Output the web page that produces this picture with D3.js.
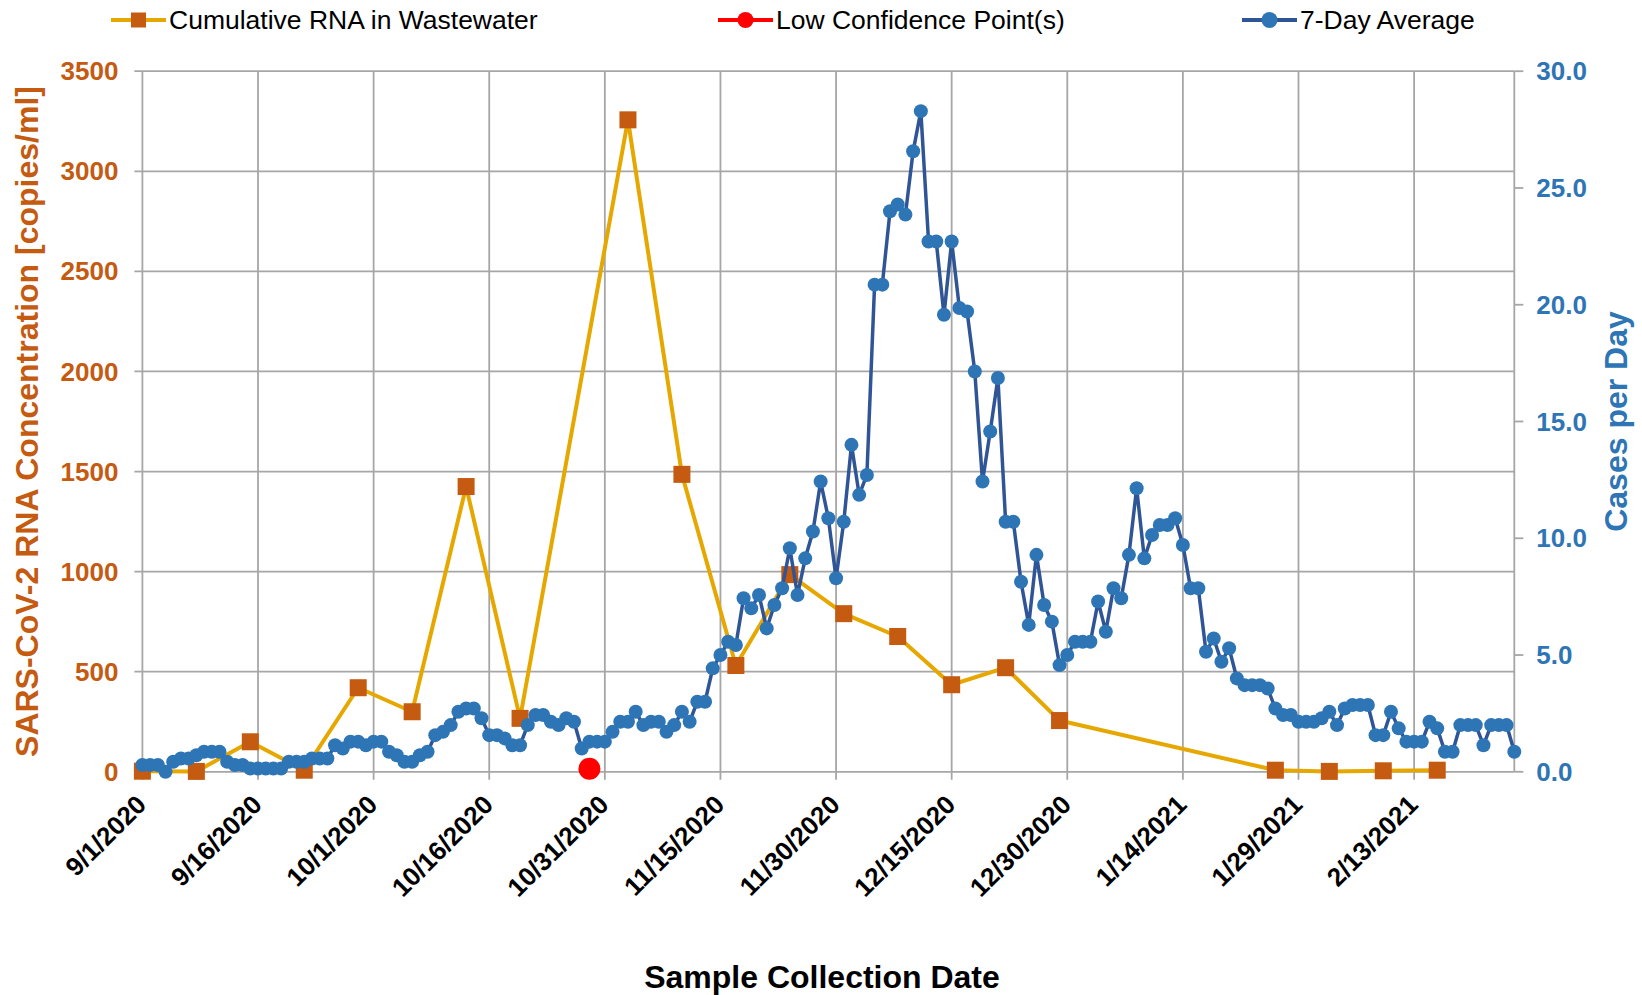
<!DOCTYPE html>
<html>
<head>
<meta charset="utf-8">
<script src="https://cdn.jsdelivr.net/npm/d3@7"></script>
<style>
  body { margin: 0; background: #fff; }
  svg { display: block; font-family: "Liberation Sans", Arial, sans-serif; }
</style>
</head>
<body>
<div id="chartDiv"></div>
<script>
// wastewater samples (copies/ml)
var rnaDates = ["9/1/2020", "9/8/2020", "9/15/2020", "9/22/2020", "9/29/2020", "10/6/2020", "10/13/2020",
  "10/20/2020", "11/3/2020", "11/10/2020", "11/17/2020", "11/24/2020", "12/1/2020", "12/8/2020",
  "12/15/2020", "12/22/2020", "12/29/2020", "1/26/2021", "2/2/2021", "2/9/2021", "2/16/2021"];
var rnaValues = [3, 2, 150, 8, 420, 300, 1425, 267, 3257, 1486, 531, 985, 790, 676, 435, 520, 256, 8, 2, 5, 8];

var lowConfDates = ["10/29/2020"];
var lowConfValues = [15];

// 7-day average cases, one value per day starting 9/1/2020
var caseStart = "9/1/2020";
var caseValues = [
  0.29, 0.29, 0.29, 0.0, 0.43, 0.57, 0.57, 0.71, 0.86, 0.86, 0.86, 0.43, 0.29, 0.29, 0.14, 0.14,
  0.14, 0.14, 0.14, 0.43, 0.43, 0.43, 0.57, 0.57, 0.57, 1.14, 1.0, 1.29, 1.29, 1.14, 1.29, 1.29,
  0.86, 0.71, 0.43, 0.43, 0.71, 0.86, 1.57, 1.71, 2.0, 2.57, 2.71, 2.71, 2.29, 1.57, 1.57, 1.43,
  1.14, 1.14, 2.0, 2.43, 2.43, 2.14, 2.0, 2.29, 2.14, 1.0, 1.29, 1.29, 1.29, 1.71, 2.14, 2.14,
  2.57, 2.0, 2.14, 2.14, 1.71, 2.0, 2.57, 2.14, 3.0, 3.0, 4.43, 5.0, 5.57, 5.43, 7.43, 7.0,
  7.57, 6.14, 7.14, 7.86, 9.57, 7.57, 9.14, 10.29, 12.43, 10.86, 8.29, 10.71, 14.0, 11.86, 12.71, 20.86,
  20.86, 24.0, 24.29, 23.86, 26.57, 28.29, 22.71, 22.71, 19.57, 22.71, 19.86, 19.71, 17.14, 12.43, 14.57, 16.86,
  10.71, 10.71, 8.14, 6.29, 9.29, 7.14, 6.43, 4.57, 5.0, 5.57, 5.57, 5.57, 7.29, 6.0, 7.86, 7.43,
  9.29, 12.14, 9.14, 10.14, 10.57, 10.57, 10.86, 9.71, 7.86, 7.86, 5.14, 5.71, 4.71, 5.29, 4.0, 3.71,
  3.71, 3.71, 3.57, 2.71, 2.43, 2.43, 2.14, 2.14, 2.14, 2.29, 2.57, 2.0, 2.71, 2.86, 2.86, 2.86,
  1.57, 1.57, 2.57, 1.86, 1.29, 1.29, 1.29, 2.14, 1.86, 0.86, 0.86, 2.0, 2.0, 2.0, 1.14, 2.0,
  2.0, 2.0, 0.86];

var xEnd = "2/26/2021";
var rnaTicks = [0, 500, 1000, 1500, 2000, 2500, 3000, 3500];
var caseTicks = [0, 5, 10, 15, 20, 25, 30];
var tickStepDays = 15;

var orange = "#C55A11", gold = "#E6A800", navy = "#2F5597", blue = "#2E75B6", grid = "#A6A6A6";

var svg = d3.select("#chartDiv").append("svg").attr("width", 1642).attr("height", 995),
  margin = {top: 71.2, right: 127.7, bottom: 223.2, left: 142.4},
  width = svg.attr("width") - margin.left - margin.right,
  height = svg.attr("height") - margin.top - margin.bottom;

svg.append("rect").attr("width", 1642).attr("height", 995).attr("fill", "#fff");

var parse = d3.utcParse("%m/%d/%Y");
var start = parse(caseStart);

var rnaData = rnaDates.map(function (d, i) { return {date: parse(d), value: rnaValues[i]}; });
var lowData = lowConfDates.map(function (d, i) { return {date: parse(d), value: lowConfValues[i]}; });
var caseData = caseValues.map(function (v, i) { return {date: d3.utcDay.offset(start, i), value: v}; });

var x = d3.scaleUtc().domain([start, parse(xEnd)]).range([0, width]);
var yLeft = d3.scaleLinear().domain([0, 3500]).range([height, 0]);
var yRight = d3.scaleLinear().domain([0, 30]).range([height, 0]);

var xTicks = d3.utcDay.range(start, d3.utcDay.offset(parse(xEnd), 1)).filter(function (d, i) {
  return i % tickStepDays === 0;
});

var g = svg.append("g").attr("transform", "translate(" + margin.left + "," + margin.top + ")");

// gridlines
g.append("g").selectAll("line").data(rnaTicks).enter().append("line")
  .attr("x1", -8).attr("x2", width)
  .attr("y1", function (d) { return yLeft(d); }).attr("y2", function (d) { return yLeft(d); })
  .attr("stroke", grid).attr("stroke-width", 1.8);

g.append("g").selectAll("line").data(xTicks).enter().append("line")
  .attr("x1", function (d) { return x(d); }).attr("x2", function (d) { return x(d); })
  .attr("y1", 0).attr("y2", height + 8)
  .attr("stroke", grid).attr("stroke-width", 1.8);

// right axis line + ticks
g.append("line").attr("x1", width).attr("x2", width).attr("y1", 0).attr("y2", height)
  .attr("stroke", grid).attr("stroke-width", 1.8);
g.append("g").selectAll("line").data(caseTicks).enter().append("line")
  .attr("x1", width).attr("x2", width + 9)
  .attr("y1", function (d) { return yRight(d); }).attr("y2", function (d) { return yRight(d); })
  .attr("stroke", grid).attr("stroke-width", 1.8);

// tick labels
g.append("g").selectAll("text").data(rnaTicks).enter().append("text")
  .attr("x", -24).attr("y", function (d) { return yLeft(d); }).attr("dy", "0.35em")
  .style("text-anchor", "end").style("font-size", "26px").style("font-weight", "bold")
  .attr("fill", orange).text(function (d) { return d; });

g.append("g").selectAll("text").data(caseTicks).enter().append("text")
  .attr("x", width + 22).attr("y", function (d) { return yRight(d); }).attr("dy", "0.35em")
  .style("text-anchor", "start").style("font-size", "26px").style("font-weight", "bold")
  .attr("fill", blue).text(function (d) { return d3.format(".1f")(d); });

var fmt = d3.utcFormat("%-m/%-d/%Y");
g.append("g").selectAll("text").data(xTicks).enter().append("text")
  .attr("transform", function (d) { return "translate(" + (x(d) - 1) + "," + (height + 28) + ") rotate(-45)"; })
  .attr("dy", "0.35em")
  .style("text-anchor", "end").style("font-size", "26px").style("font-weight", "bold")
  .attr("fill", "#000").text(function (d) { return fmt(d); });

// axis titles
svg.append("text")
  .attr("transform", "translate(27," + (margin.top + height / 2) + ") rotate(-90)")
  .attr("dy", "0.35em").style("text-anchor", "middle")
  .style("font-size", "32px").style("font-weight", "bold").attr("fill", orange)
  .text("SARS-CoV-2 RNA Concentration [copies/ml]");

svg.append("text")
  .attr("transform", "translate(1616," + (margin.top + height / 2) + ") rotate(-90)")
  .attr("dy", "0.35em").style("text-anchor", "middle")
  .style("font-size", "32px").style("font-weight", "bold").attr("fill", blue)
  .text("Cases per Day");

svg.append("text")
  .attr("x", 822).attr("y", 977).attr("dy", "0.35em").style("text-anchor", "middle")
  .style("font-size", "32px").style("font-weight", "bold").attr("fill", "#000")
  .text("Sample Collection Date");

// wastewater series
var rnaLine = d3.line().x(function (d) { return x(d.date); }).y(function (d) { return yLeft(d.value); });
g.append("path").datum(rnaData).attr("d", rnaLine)
  .attr("fill", "none").attr("stroke", gold).attr("stroke-width", 4).attr("stroke-linejoin", "round");
g.selectAll(".rnaPt").data(rnaData).enter().append("rect")
  .attr("class", "rnaPt")
  .attr("x", function (d) { return x(d.date) - 8.5; })
  .attr("y", function (d) { return yLeft(d.value) - 8.5; })
  .attr("width", 17).attr("height", 17).attr("fill", orange);

// low confidence
g.selectAll(".lowPt").data(lowData).enter().append("circle")
  .attr("class", "lowPt")
  .attr("cx", function (d) { return x(d.date); })
  .attr("cy", function (d) { return yLeft(d.value); })
  .attr("r", 11).attr("fill", "#FF0000");

// 7-day average
var caseLine = d3.line().x(function (d) { return x(d.date); }).y(function (d) { return yRight(d.value); });
g.append("path").datum(caseData).attr("d", caseLine)
  .attr("fill", "none").attr("stroke", navy).attr("stroke-width", 3.5).attr("stroke-linejoin", "round");
g.selectAll(".casePt").data(caseData).enter().append("circle")
  .attr("class", "casePt")
  .attr("cx", function (d) { return x(d.date); })
  .attr("cy", function (d) { return yRight(d.value); })
  .attr("r", 7).attr("fill", blue);

// legend
var legendItems = [
  {label: "Cumulative RNA in Wastewater", x: 111, line: gold, mark: "square", fill: orange},
  {label: "Low Confidence Point(s)", x: 718, line: "#FF0000", mark: "circle", fill: "#FF0000"},
  {label: "7-Day Average", x: 1242, line: navy, mark: "circle", fill: blue}
];
var legend = svg.selectAll(".legend").data(legendItems).enter().append("g")
  .attr("class", "legend")
  .attr("transform", function (d) { return "translate(" + d.x + ",20)"; });

legend.append("line").attr("x1", 0).attr("x2", 55).attr("y1", 0).attr("y2", 0)
  .attr("stroke", function (d) { return d.line; }).attr("stroke-width", 4);
legend.filter(function (d) { return d.mark === "square"; }).append("rect")
  .attr("x", 20).attr("y", -7.5).attr("width", 15).attr("height", 15)
  .attr("fill", function (d) { return d.fill; });
legend.filter(function (d) { return d.mark === "circle"; }).append("circle")
  .attr("cx", 27.5).attr("cy", 0).attr("r", 8)
  .attr("fill", function (d) { return d.fill; });
legend.append("text")
  .attr("x", 58).attr("y", 0).attr("dy", "0.35em")
  .style("font-size", "26.5px").attr("fill", "#000")
  .text(function (d) { return d.label; });
</script>
</body>
</html>
